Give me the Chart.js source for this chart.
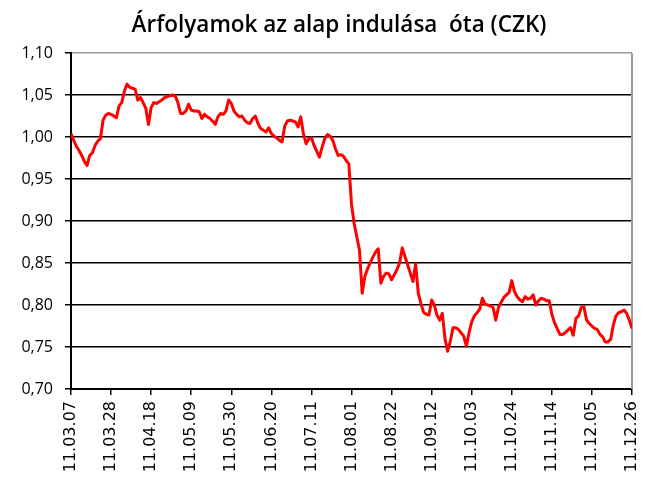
<!DOCTYPE html>
<html>
<head>
<meta charset="utf-8">
<script src="https://cdn.jsdelivr.net/npm/chart.js@4"></script>
<style>
  body { margin: 0; background: #fff; }
</style>
</head>
<body>
<canvas id="chart" width="646" height="477"></canvas>
<script>
const chartTitle = 'Árfolyamok az alap indulása  óta (CZK)';

// one label every 15 trading days
const tickLabels = ['11.03.07', '11.03.28', '11.04.18', '11.05.09', '11.05.30',
  '11.06.20', '11.07.11', '11.08.01', '11.08.22', '11.09.12',
  '11.10.03', '11.10.24', '11.11.14', '11.12.05', '11.12.26'];

// daily fund price (15 values per line)
const fundValues = [
  1.004, 0.996, 0.989, 0.984, 0.978, 0.971, 0.966, 0.978, 0.981, 0.990, 0.995, 0.998, 1.020, 1.026, 1.028,
  1.027, 1.025, 1.023, 1.037, 1.041, 1.055, 1.063, 1.059, 1.058, 1.057, 1.044, 1.047, 1.041, 1.034, 1.015,
  1.035, 1.041, 1.040, 1.042, 1.044, 1.047, 1.048, 1.049, 1.050, 1.049, 1.041, 1.028, 1.028, 1.031, 1.039,
  1.032, 1.031, 1.031, 1.030, 1.022, 1.027, 1.024, 1.022, 1.019, 1.015, 1.024, 1.028, 1.027, 1.031, 1.044,
  1.040, 1.031, 1.027, 1.024, 1.025, 1.020, 1.017, 1.016, 1.022, 1.025, 1.016, 1.010, 1.008, 1.006, 1.011,
  1.004, 1.001, 0.999, 0.996, 0.994, 1.013, 1.019, 1.020, 1.019, 1.018, 1.012, 1.024, 1.004, 0.992, 0.998,
  0.999, 0.990, 0.983, 0.976, 0.988, 0.998, 1.003, 1.001, 0.996, 0.986, 0.978, 0.979, 0.977, 0.972, 0.968,
  0.920, 0.897, 0.881, 0.865, 0.814, 0.834, 0.843, 0.850, 0.857, 0.863, 0.867, 0.826, 0.834, 0.838, 0.837,
  0.830, 0.836, 0.842, 0.850, 0.868, 0.858, 0.848, 0.838, 0.828, 0.849, 0.814, 0.802, 0.791, 0.789, 0.788,
  0.806, 0.800, 0.788, 0.782, 0.790, 0.760, 0.745, 0.757, 0.773, 0.773, 0.771, 0.767, 0.763, 0.751, 0.767,
  0.780, 0.787, 0.791, 0.795, 0.808, 0.801, 0.800, 0.799, 0.797, 0.782, 0.797, 0.803, 0.809, 0.812, 0.815,
  0.829, 0.816, 0.810, 0.806, 0.804, 0.810, 0.807, 0.808, 0.812, 0.800, 0.805, 0.808, 0.807, 0.805, 0.805,
  0.789, 0.779, 0.772, 0.765, 0.765, 0.767, 0.770, 0.773, 0.764, 0.784, 0.787, 0.797, 0.798, 0.782, 0.778,
  0.775, 0.772, 0.771, 0.765, 0.762, 0.756, 0.756, 0.759, 0.776, 0.787, 0.791, 0.792, 0.794, 0.790, 0.782,
  0.772
];

const points = fundValues.map((v, i) => ({ x: i, y: v }));

// title sits a bit right of the canvas centre, grey frame line on the right of the plot
const frameAndTitle = {
  id: 'frameAndTitle',
  beforeDatasetsDraw(chart) {
    const a = chart.chartArea;
    const ctx = chart.ctx;
    ctx.save();
    ctx.strokeStyle = '#9a9a9a';
    ctx.lineWidth = 2;
    ctx.beginPath();
    ctx.moveTo(a.right, a.top);
    ctx.lineTo(a.right, a.bottom);
    ctx.stroke();
    ctx.restore();
  },
  afterDraw(chart) {
    const ctx = chart.ctx;
    ctx.save();
    ctx.fillStyle = '#000';
    ctx.font = '600 22.5px "Open Sans"';
    ctx.textAlign = 'center';
    ctx.textBaseline = 'middle';
    ctx.fillText(chartTitle, 339, 26);
    ctx.restore();
  }
};

new Chart(document.getElementById('chart'), {
  type: 'line',
  data: {
    datasets: [{
      data: points,
      borderColor: '#ff0000',
      borderWidth: 3,
      pointRadius: 0,
      borderJoinStyle: 'round',
      tension: 0
    }]
  },
  options: {
    responsive: false,
    animation: false,
    layout: { padding: { top: 53, right: 14, bottom: 0, left: 0 } },
    plugins: {
      legend: { display: false },
      tooltip: { enabled: false },
      title: { display: false }
    },
    scales: {
      x: {
        type: 'linear',
        min: 0,
        max: 210,
        afterFit: s => { s.height = 88; s.paddingLeft = 0; s.paddingRight = 0; },
        ticks: {
          stepSize: 15,
          autoSkip: false,
          minRotation: 90,
          maxRotation: 90,
          padding: 6,
          color: '#000',
          font: { family: 'DejaVu Sans', size: 16 },
          callback: v => tickLabels[v / 15]
        },
        grid: { drawOnChartArea: false, drawTicks: true, tickLength: 6, color: '#000', lineWidth: 1.5 },
        border: { display: true, color: '#000', width: 2 }
      },
      y: {
        min: 0.70,
        max: 1.10,
        afterFit: s => { s.width = 71; s.paddingTop = 0; s.paddingBottom = 0; },
        ticks: {
          stepSize: 0.05,
          padding: 12,
          color: '#000',
          font: { family: 'Open Sans', size: 16 },
          callback: v => v.toFixed(2).replace('.', ',')
        },
        grid: {
          color: c => (c.tick && c.tick.value > 1.099) ? '#9a9a9a' : '#000',
          tickColor: '#000',
          lineWidth: 1.5,
          tickLength: 6
        },
        border: { display: true, color: '#000', width: 2 }
      }
    }
  },
  plugins: [frameAndTitle]
});
</script>
</body>
</html>
